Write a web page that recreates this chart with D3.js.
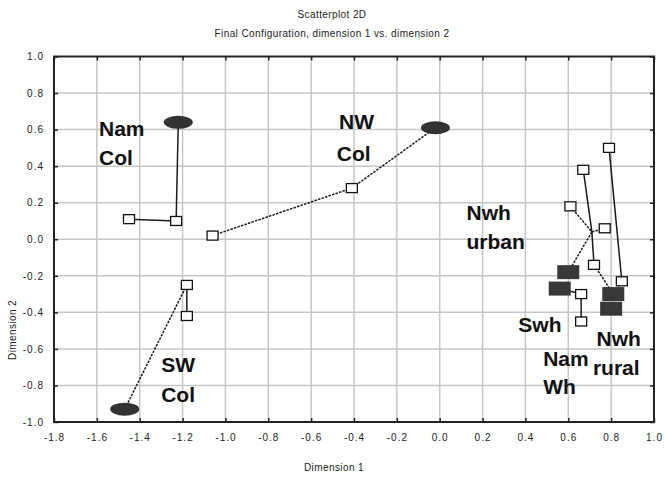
<!DOCTYPE html>
<html>
<head>
<meta charset="utf-8">
<script src="https://cdn.jsdelivr.net/npm/d3@7"></script>
<style>
  html, body { margin: 0; padding: 0; background: #fff; }
  svg { display: block; }
  .tick text { font-family: "Liberation Sans", Arial, sans-serif; font-size: 10px; fill: #222; letter-spacing: 1px; }
  .small { font-family: "Liberation Sans", Arial, sans-serif; font-size: 10px; fill: #222; letter-spacing: 0.4px; }
  .glabel { font-family: "Liberation Sans", Arial, sans-serif; font-size: 21px; font-weight: bold; fill: #111; }
</style>
</head>
<body>
<script>
// Group centroids drawn as filled ellipses (Col groups)
const colCentroids = [
  { group: "Nam Col", dim1: -1.22, dim2: 0.64 },
  { group: "NW Col",  dim1: -0.02, dim2: 0.61 },
  { group: "SW Col",  dim1: -1.47, dim2: -0.93 }
];

// Group centroids drawn as filled squares (Wh groups)
const whCentroids = [
  { group: "Nwh urban", dim1: 0.60, dim2: -0.18 },
  { group: "Swh",       dim1: 0.56, dim2: -0.27 },
  { group: "Nwh rural", dim1: 0.81, dim2: -0.30 },
  { group: "Nam Wh",    dim1: 0.80, dim2: -0.38 }
];

// Individual configurations (open squares)
const subjectDim1 = [-1.23, -1.45, -0.41, -1.06, -1.18, -1.18, 0.79, 0.67, 0.61, 0.77, 0.72, 0.85, 0.66, 0.66];
const subjectDim2 = [ 0.10,  0.11,  0.28,  0.02, -0.25, -0.42, 0.50, 0.38, 0.18, 0.06, -0.14, -0.23, -0.30, -0.45];

// Connecting paths, as lists of [dim1, dim2] vertices
const paths = [
  [[-1.22, 0.64], [-1.23, 0.10], [-1.45, 0.11]],
  [[-0.02, 0.61], [-0.41, 0.28], [-1.06, 0.02]],
  [[-1.47, -0.93], [-1.18, -0.25], [-1.18, -0.42]],
  [[0.79, 0.50], [0.85, -0.23], [0.81, -0.30]],
  [[0.67, 0.38], [0.71, 0.04], [0.72, -0.14], [0.81, -0.30]],
  [[0.61, 0.18], [0.71, 0.04], [0.77, 0.06]],
  [[0.71, 0.04], [0.60, -0.18]],
  [[0.56, -0.27], [0.66, -0.30], [0.66, -0.45]]
];

// Group name annotations (one entry per text line), anchored in data units
const labelText = ["Nam", "Col", "NW", "Col", "SW", "Col", "Nwh", "urban", "Swh", "Nam", "Wh", "Nwh", "rural"];
const labelDim1 = [-1.59, -1.59, -0.47, -0.48, -1.30, -1.30, 0.125, 0.125, 0.367, 0.483, 0.483, 0.732, 0.715];
const labelDim2 = [ 0.565, 0.405, 0.605, 0.43, -0.725, -0.89, 0.105, -0.055, -0.505, -0.695, -0.845, -0.585, -0.745];

const xTicks = [-1.8, -1.6, -1.4, -1.2, -1.0, -0.8, -0.6, -0.4, -0.2, 0.0, 0.2, 0.4, 0.6, 0.8, 1.0];
const yTicks = [-1.0, -0.8, -0.6, -0.4, -0.2, 0.0, 0.2, 0.4, 0.6, 0.8, 1.0];

const W = 664, H = 481;
const plotL = 54, plotR = 654, plotT = 56.5, plotB = 422;

const svg = d3.select("body").append("svg").attr("width", W).attr("height", H);

const x = d3.scaleLinear().domain([-1.8, 1.0]).range([plotL, plotR]);
const y = d3.scaleLinear().domain([-1.0, 1.0]).range([plotB, plotT]);
const fmt = d => d.toFixed(1);

// Gridlines
const grid = svg.append("g");
grid.selectAll("line.v").data(xTicks.slice(1, -1)).join("line")
  .attr("class", "v")
  .attr("x1", d => x(d)).attr("x2", d => x(d))
  .attr("y1", plotT).attr("y2", plotB)
  .attr("stroke", "#c6c6c6").attr("stroke-width", 1.5);
grid.selectAll("line.h").data(yTicks.slice(1, -1)).join("line")
  .attr("class", "h")
  .attr("y1", d => y(d)).attr("y2", d => y(d))
  .attr("x1", plotL).attr("x2", plotR)
  .attr("stroke", "#c6c6c6").attr("stroke-width", 1.5);

// Axes with inward ticks on all four sides
function styleAxis(g) {
  g.select(".domain").remove();
  g.selectAll(".tick line").attr("stroke", "#222").attr("stroke-width", 1.5);
}
svg.append("g").attr("transform", `translate(0,${plotB})`)
  .call(d3.axisBottom(x).tickValues(xTicks).tickFormat(fmt).tickSize(-4).tickPadding(12))
  .call(styleAxis);
svg.append("g").attr("transform", `translate(0,${plotT})`)
  .call(d3.axisTop(x).tickValues(xTicks).tickFormat("").tickSize(-4))
  .call(styleAxis);
svg.append("g").attr("transform", `translate(${plotL},0)`)
  .call(d3.axisLeft(y).tickValues(yTicks).tickFormat(fmt).tickSize(-4).tickPadding(10))
  .call(styleAxis);
svg.append("g").attr("transform", `translate(${plotR},0)`)
  .call(d3.axisRight(y).tickValues(yTicks).tickFormat("").tickSize(-4))
  .call(styleAxis);

// Plot frame
svg.append("rect")
  .attr("x", plotL).attr("y", plotT)
  .attr("width", plotR - plotL).attr("height", plotB - plotT)
  .attr("fill", "none").attr("stroke", "#222").attr("stroke-width", 2);

// Connecting lines, drawn segment by segment; oblique segments get a fine dash
const segs = [];
paths.forEach(p => { for (let i = 1; i < p.length; i++) segs.push([p[i - 1], p[i]]); });
svg.append("g").selectAll("line").data(segs).join("line")
  .attr("x1", d => x(d[0][0])).attr("y1", d => y(d[0][1]))
  .attr("x2", d => x(d[1][0])).attr("y2", d => y(d[1][1]))
  .attr("stroke", "#1a1a1a").attr("stroke-width", 1.5)
  .attr("stroke-dasharray", d => {
    const dx = Math.abs(x(d[1][0]) - x(d[0][0])), dy = Math.abs(y(d[1][1]) - y(d[0][1]));
    const a = Math.atan2(dy, dx) * 180 / Math.PI;
    return (a > 15 && a < 70) ? "2.5,1.2" : null;
  });

// Filled ellipses
svg.append("g").selectAll("ellipse").data(colCentroids).join("ellipse")
  .attr("cx", d => x(d.dim1)).attr("cy", d => y(d.dim2))
  .attr("rx", 14.5).attr("ry", 6.5)
  .attr("fill", "#333");

// Filled squares
svg.append("g").selectAll("rect").data(whCentroids).join("rect")
  .attr("x", d => x(d.dim1) - 11).attr("y", d => y(d.dim2) - 7)
  .attr("width", 22).attr("height", 14)
  .attr("fill", "#383838");

// Open squares
svg.append("g").selectAll("rect").data(subjectDim1.map((d, i) => [d, subjectDim2[i]])).join("rect")
  .attr("x", d => x(d[0]) - 5.5).attr("y", d => y(d[1]) - 4.5)
  .attr("width", 11).attr("height", 9)
  .attr("fill", "#fff").attr("stroke", "#111").attr("stroke-width", 1.3);

// Group labels
svg.append("g").selectAll("text").data(labelText).join("text")
  .attr("class", "glabel")
  .attr("x", (d, i) => x(labelDim1[i])).attr("y", (d, i) => y(labelDim2[i]))
  .text(d => d);

// Titles
svg.append("text").attr("class", "small").attr("x", 332).attr("y", 18)
  .attr("text-anchor", "middle").text("Scatterplot 2D");
svg.append("text").attr("class", "small").attr("x", 332).attr("y", 37)
  .attr("text-anchor", "middle").text("Final Configuration, dimension 1  vs. dimension 2");
svg.append("text").attr("class", "small").attr("x", 334).attr("y", 471)
  .attr("text-anchor", "middle").text("Dimension 1");
svg.append("text").attr("class", "small")
  .attr("transform", "translate(16,330) rotate(-90)")
  .attr("text-anchor", "middle").text("Dimension 2");
</script>
</body>
</html>
